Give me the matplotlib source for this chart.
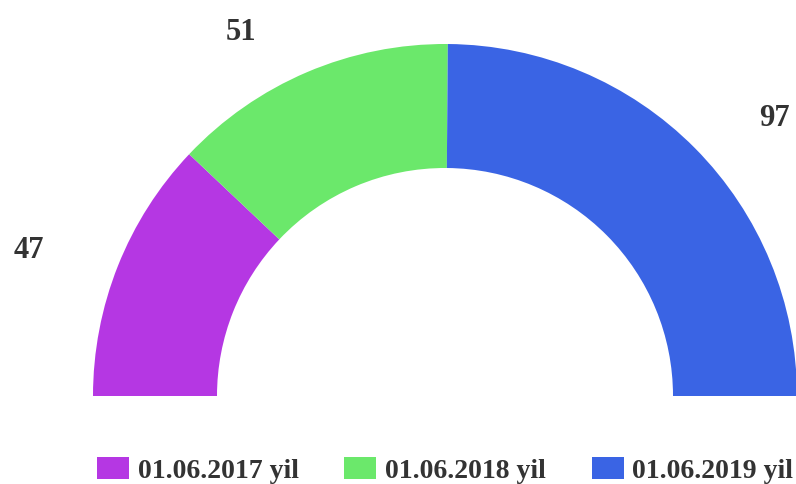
import numpy as np
import matplotlib
matplotlib.use("Agg")
import matplotlib.pyplot as plt

categories = ["01.06.2017 yil", "01.06.2018 yil", "01.06.2019 yil"]
values = [47, 51, 97]
colors = ["#B537E3", "#6BE86B", "#3A64E4"]

W, H = 796, 485
fig = plt.figure(figsize=(W / 100, H / 100), dpi=100)
ax = fig.add_axes([0, 0, 1, 1])

R = 352.0
inner = 228.0
total = float(sum(values))
fracs = [v / total / 2.0 for v in values]

wedges, _ = ax.pie(fracs, normalize=False, startangle=180, counterclock=False,
                   radius=R, colors=colors,
                   wedgeprops=dict(width=R - inner, linewidth=0))

font = dict(family=["Liberation Serif", "DejaVu Serif"], weight="bold", color="#333333")

# outside value labels at mid-angles
for w, v in zip(wedges, values):
    mid = np.deg2rad((w.theta1 + w.theta2) / 2.0)
    px = 1.125 * R * np.cos(mid)
    py = 1.125 * R * np.sin(mid)
    off = 33 if np.cos(mid) >= 0 else -33
    ax.text(px + off, py, str(v), ha="left" if off > 0 else "right",
            va="center", fontsize=22, **font)

ax.set_xlim(-445, W - 445)
ax.set_ylim(-(H - 397), 397)
ax.set_aspect("auto")
ax.axis("off")

leg = fig.legend(wedges, categories, loc="center left",
                 bbox_to_anchor=(97 / W, 1 - 471 / H), ncol=3, frameon=False,
                 borderpad=0, borderaxespad=0,
                 handlelength=1.15, handleheight=0.86, handletextpad=0.32,
                 columnspacing=1.64,
                 prop=dict(family="Liberation Serif", weight="bold", size=20))
for t in leg.get_texts():
    t.set_color("#333333")

fig.savefig("out.png", dpi=100)
